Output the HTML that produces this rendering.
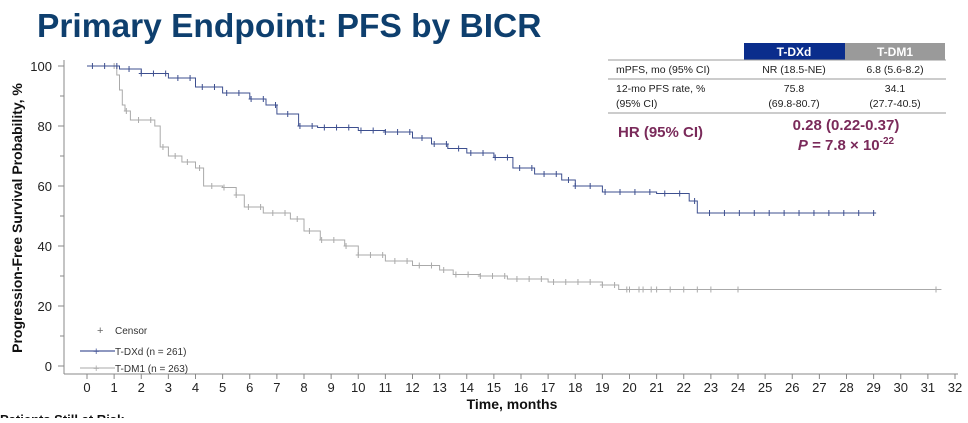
<!DOCTYPE html>
<html><head><meta charset="utf-8"><style>
body{margin:0;background:#fff;width:968px;height:418px;overflow:hidden;font-family:"Liberation Sans",Arial,sans-serif}
</style></head><body>
<svg width="968" height="418" xmlns="http://www.w3.org/2000/svg" font-family="Liberation Sans, Arial, sans-serif">
<text x="37" y="37" font-size="33.5" font-weight="bold" fill="#0e3f6e">Primary Endpoint: PFS by BICR</text>
<g stroke="#888" stroke-width="1">
<line x1="64" y1="60" x2="64" y2="374"/>
<line x1="64" y1="374" x2="958" y2="374"/>
</g>
<g id="yt" font-size="13" fill="#222" text-anchor="end"></g>
<g id="xt" font-size="13" fill="#222" text-anchor="middle"></g>
<text x="512" y="409" font-size="14" font-weight="bold" text-anchor="middle" fill="#111">Time,  months</text>
<text transform="translate(22,218) rotate(-90)" font-size="14" font-weight="bold" text-anchor="middle" fill="#111">Progression-Free Survival Probability, %</text>
<text x="0" y="424" font-size="13" font-weight="bold" fill="#111">Patients Still at Risk</text>
<g id="curves"></g>
<text x="97" y="334" font-size="11" fill="#666">+</text>
<text x="115" y="334" font-size="10" fill="#333">Censor</text>
<line x1="80" y1="351" x2="115" y2="351" stroke="#4a5a9a" stroke-width="1.2"/><text x="93" y="355" font-size="11" fill="#4a5a9a">+</text>
<text x="115" y="355" font-size="10" fill="#333">T-DXd (n = 261)</text>
<line x1="80" y1="368" x2="115" y2="368" stroke="#bbb" stroke-width="1.2"/><text x="93" y="372" font-size="11" fill="#aaa">+</text>
<text x="115" y="372" font-size="10" fill="#333">T-DM1 (n = 263)</text>
<rect x="744" y="43" width="101" height="17" fill="#0a2d8c"/>
<rect x="845" y="43" width="100" height="17" fill="#9a9a9a"/>
<text x="794" y="56" font-size="12" font-weight="bold" fill="#fff" text-anchor="middle">T-DXd</text>
<text x="895" y="56" font-size="12" font-weight="bold" fill="#fff" text-anchor="middle">T-DM1</text>
<line x1="608" y1="60" x2="946" y2="60" stroke="#999"/>
<line x1="608" y1="79" x2="946" y2="79" stroke="#999"/>
<line x1="608" y1="113" x2="946" y2="113" stroke="#999"/>
<g font-size="10.5" fill="#222">
<text x="616" y="73">mPFS, mo (95% CI)</text>
<text x="794" y="73" text-anchor="middle">NR (18.5-NE)</text>
<text x="895" y="73" text-anchor="middle">6.8 (5.6-8.2)</text>
<text x="616" y="92">12-mo PFS rate, %</text>
<text x="616" y="107">(95% CI)</text>
<text x="794" y="92" text-anchor="middle">75.8</text>
<text x="794" y="107" text-anchor="middle">(69.8-80.7)</text>
<text x="895" y="92" text-anchor="middle">34.1</text>
<text x="895" y="107" text-anchor="middle">(27.7-40.5)</text>
</g>
<text x="618" y="137" font-size="15" font-weight="bold" fill="#7a2a5a">HR (95% CI)</text>
<text x="846" y="130" font-size="15" font-weight="bold" fill="#7a2a5a" text-anchor="middle">0.28 (0.22-0.37)</text>
<text x="846" y="150" font-size="15" font-weight="bold" fill="#7a2a5a" text-anchor="middle"><tspan font-style="italic">P</tspan> = 7.8 × 10<tspan font-size="10" dy="-6">-22</tspan></text>
</svg>
<script>
var NS="http://www.w3.org/2000/svg";
function X(m){return 87+m*27.125}
function Y(p){return 366-p*3}
function el(t,a,p){var e=document.createElementNS(NS,t);for(var k in a)e.setAttribute(k,a[k]);if(p)p.appendChild(e);return e}
var yt=document.getElementById('yt'),xt=document.getElementById('xt');
[0,20,40,60,80,100].forEach(function(v){var t=el('text',{x:52,y:Y(v)+5},yt);t.textContent=v;
el('line',{x1:58,x2:64,y1:Y(v),y2:Y(v),stroke:'#888'},yt.parentNode)});
[10,30,50,70,90].forEach(function(v){el('line',{x1:60,x2:64,y1:Y(v),y2:Y(v),stroke:'#888'},yt.parentNode)});
for(var m=0;m<=32;m++){var t=el('text',{x:X(m),y:392},xt);t.textContent=m;el('line',{x1:X(m),x2:X(m),y1:374,y2:379,stroke:'#888'},xt.parentNode)}
var g=document.getElementById('curves');
function curve(pts,color,end,cens){
 var d="M"+X(0)+","+Y(100);
 pts.forEach(function(p){d+="H"+X(p[0]).toFixed(1)+"V"+Y(p[1])});
 d+="H"+X(end);
 el('path',{d:d,fill:'none',stroke:color,'stroke-width':1},g);
 cens.forEach(function(m){var v=100;pts.forEach(function(p){if(p[0]<=m)v=p[1]});
 el('path',{d:"M"+(X(m)-2.5)+","+Y(v)+"h5M"+X(m)+","+(Y(v)-3)+"v6",stroke:color,'stroke-width':1},g)});
}
var dx=[[1.2,99],[2,97.5],[3,96],[4,93],[5,91],[6,89],[6.6,87],[7,84],[7.8,80],[8.5,79.5],[10,78.5],[11,78],[12,76],[12.7,74],[13.3,72.5],[14,71],[15,69.5],[15.7,66],[16.5,64],[17.5,62],[18,60],[19,58],[21,57.5],[22.2,55],[22.5,51]];
var dm=[[1.1,97],[1.2,92],[1.3,87],[1.4,85],[1.6,82],[2.5,80],[2.7,73],[3,70],[3.5,68],[4,66],[4.3,60],[5,59.5],[5.5,57],[5.8,53],[6.5,51],[7.5,49],[8,45],[8.6,42],[9.5,40],[10,37],[11,35],[12,33.5],[13,32],[13.5,30.5],[14.5,30],[15.5,29],[17,28],[19,27],[19.6,25.5]];
var cdx=[];for(var i=0;i<60;i++)cdx.push(i<40?0.2+i*0.45:18+i%20*0.55);cdx.push(29);
var cdm=[];for(var i=0;i<45;i++)cdm.push(1+i*0.45);[20,20.5,21,21.5,22,22.5,23,24,31.3].forEach(function(v){cdm.push(v)});
curve(dm,'#aaa',31.5,cdm);
curve(dx,'#3d4f8f',29,cdx);
</script>
</body></html>
